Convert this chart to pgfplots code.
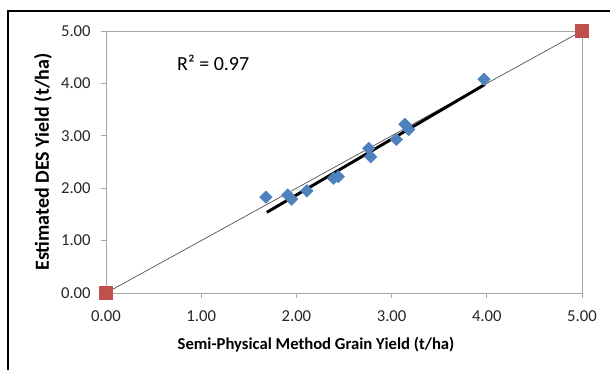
\documentclass[border=0pt]{standalone}
\usepackage{pgfplots}
\pgfplotsset{compat=1.18}
\usepackage{fontspec}
\setmainfont{Carlito}
\definecolor{exblue}{HTML}{4F81BD}
\definecolor{exred}{HTML}{C0504D}
\begin{document}
\begin{tikzpicture}[x=0.75pt,y=0.75pt]
\useasboundingbox (-106,-76) rectangle (504,293);
\draw[black, line width=1.2pt] (-98,-80) -- (-98,282) -- (510,282);
\begin{axis}[
  at={(0,0)}, anchor=south west,
  scale only axis, width=357pt, height=196.5pt,
  xmin=0, xmax=5, ymin=0, ymax=5,
  xtick={0,1,...,5}, ytick={0,1,...,5},
  axis line style={gray!70, line width=0.6pt},
  tick style={gray!70, line width=0.6pt},
  tick align=outside, major tick length=4pt,
  xtick pos=bottom, ytick pos=left,
  /pgf/number format/assume math mode=true,
  /pgf/number format/.cd, fixed, fixed zerofill, precision=2, /pgfplots/.cd,
  ticklabel style={font=\fontsize{12.5}{14}\selectfont, text=black!85},
  xticklabel style={yshift=-5.5pt},
  yticklabel style={xshift=-4pt},
  xlabel={\textbf{Semi-Physical Method Grain Yield (t/ha)}},
  ylabel={\textbf{Estimated DES Yield (t/ha)}},
  xlabel style={font=\fontsize{12.5}{14}\selectfont, xshift=-21pt, yshift=-5pt},
  ylabel style={font=\fontsize{15}{17}\selectfont, yshift=0pt},
  clip=false,
]
\addplot[gray!60!black, line width=0.5pt, mark=none] coordinates {(0,0) (5,5)};
\addplot[only marks, mark=square*, mark size=4.7pt, color=exred] coordinates {(0,0) (5,5)};
\addplot[black, line width=2.2pt, mark=none] coordinates {(1.69,1.54) (3.98,3.98)};
\addplot[only marks, mark=square*, mark size=3.3pt, color=exblue, mark options={rotate=45}] coordinates {
(1.68,1.83) (1.91,1.87) (1.95,1.79) (2.11,1.95) (2.39,2.19) (2.44,2.22)
(2.76,2.76) (2.78,2.60) (3.05,2.93) (3.14,3.22) (3.18,3.12) (3.97,4.08)};
\node[anchor=west, inner sep=0pt, font=\fontsize{15}{17}\selectfont] at (axis cs:0.745,4.39) {R² = 0.97};
\end{axis}
\end{tikzpicture}
\end{document}
